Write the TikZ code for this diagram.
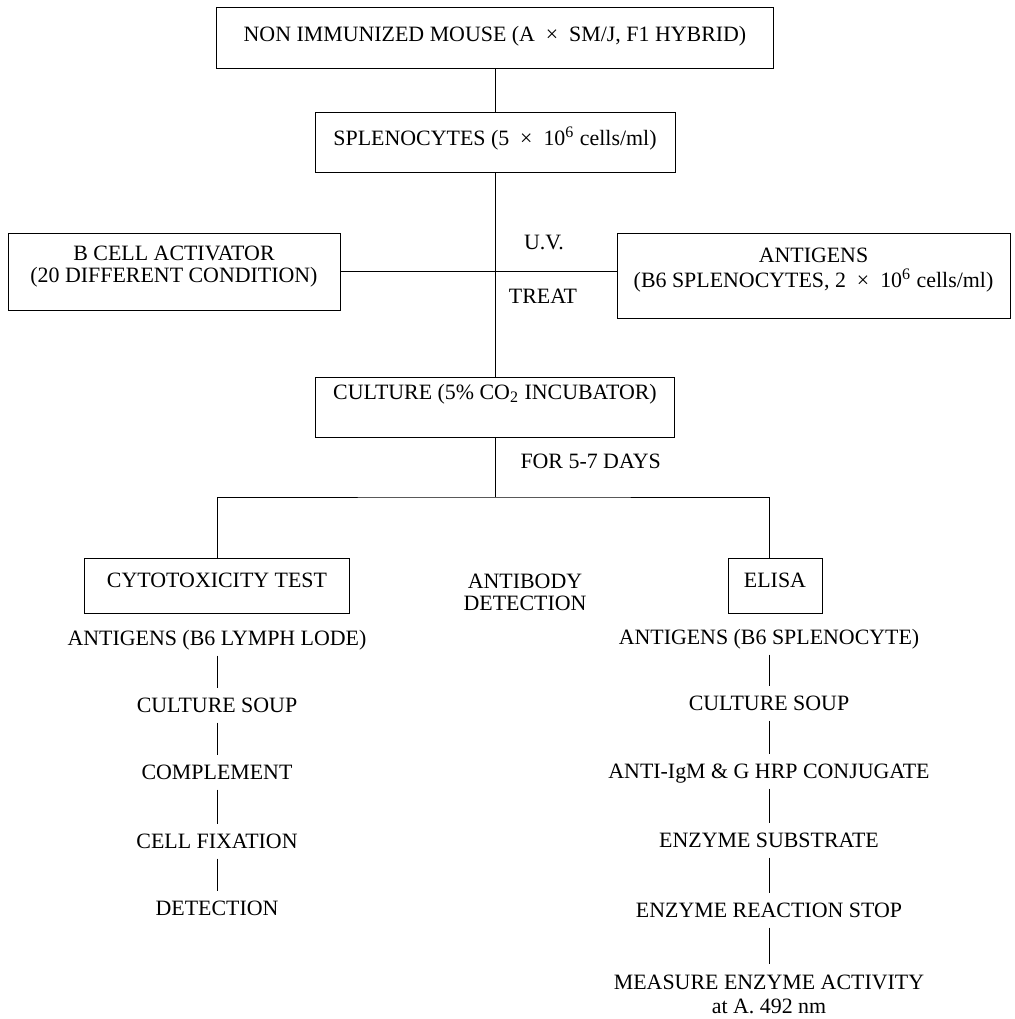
\documentclass[tikz,border=0pt]{standalone}
\usepackage{fontspec}
\setmainfont{Liberation Serif}
\usepackage{tikz}

\begin{document}
\begin{tikzpicture}[x=0.5pt, y=-0.5pt, line width=0.5pt,
  font=\fontsize{10.95}{12}\selectfont,
  box/.style={draw, anchor=base, inner sep=0pt},
  twobox/.style={draw, align=center, inner sep=0pt},
  stage/.style={anchor=base, inner xsep=2pt, inner ysep=5pt, text height=7pt, text depth=0pt}]

  \useasboundingbox (0, 0) rectangle (1014, 1019);

  \node[box, minimum width=278.5pt, text height=17pt, text depth=13.5pt] (mouse) at (495, 41) {NON IMMUNIZED MOUSE (A\enspace×\enspace SM/J, F1 HYBRID)};
  \node[box, minimum width=180pt, text height=16.5pt, text depth=13.5pt] (splen) at (495, 145) {SPLENOCYTES (5\enspace×\enspace 10\textsuperscript{6} cells/ml)};

  % extra depth on the last line lifts the text inside the box
  \node[twobox, minimum width=166pt, minimum height=38.5pt] (bcell) at (174, 271.5) {B CELL ACTIVATOR\\[-1pt](20 DIFFERENT CONDITION)\rule[-7pt]{0pt}{7pt}};
  \node[twobox, minimum width=196.5pt, minimum height=42.5pt] (antigens) at (813.5, 275.5) {ANTIGENS\\[0.5pt](B6 SPLENOCYTES, 2\enspace×\enspace 10\textsuperscript{6} cells/ml)\rule[-8pt]{0pt}{8pt}};
  \node[anchor=base] (uv) at (544, 249) {U.V.};
  \node[anchor=base] (treat) at (543, 303) {TREAT};

  \node[box, minimum width=179.5pt, text height=11pt, text depth=19pt] (culture) at (495, 399) {CULTURE (5\% CO\textsubscript{2} INCUBATOR)};
  \node[anchor=base west, inner sep=0pt] (days) at (520, 468) {FOR 5-7 DAYS};

  \node[box, minimum width=132.5pt, text height=14.5pt, text depth=13pt] (cyto) at (217, 587) {CYTOTOXICITY TEST};
  \node[box, minimum width=47pt, text height=14.5pt, text depth=13pt] (elisa) at (775, 587) {ELISA};
  \node[align=center] (detect) at (525, 592.5) {ANTIBODY\\[-1pt]DETECTION};

  \foreach \n/\y/\t in {lag/645/{ANTIGENS (B6 LYMPH LODE)}, lsoup/712/{CULTURE SOUP}, lcompl/779/{COMPLEMENT}, lfix/848/{CELL FIXATION}, ldetect/915/{DETECTION}}
    \node[stage] (\n) at (217, \y) {\t};

  \foreach \n/\y/\t in {rag/644/{ANTIGENS (B6 SPLENOCYTE)}, rsoup/710/{CULTURE SOUP}, rconj/778/{ANTI-IgM \& G HRP CONJUGATE}, rsubst/847/{ENZYME SUBSTRATE}, rstop/917/{ENZYME REACTION STOP}}
    \node[stage] (\n) at (769, \y) {\t};
  \node[align=center, anchor=north, inner sep=5pt] (rmeasure) at (769, 964) {MEASURE ENZYME ACTIVITY\\at A. 492 nm};

  \draw (mouse) -- (splen);
  \draw (splen) -- (culture);
  \draw (bcell.east) -- (bcell.east -| antigens.west);

  \coordinate (fork) at (495, 497);
  \draw (culture) -- (fork);
  \draw (cyto.north) |- (fork) -| (elisa.north -| rag);

  \foreach \a/\b in {lag/lsoup, lsoup/lcompl, lcompl/lfix, lfix/ldetect}
    \draw (\a) -- (\b);
  \foreach \a/\b in {rag/rsoup, rsoup/rconj, rconj/rsubst, rsubst/rstop, rstop/rmeasure}
    \draw (\a) -- (\b);

\end{tikzpicture}
\end{document}
